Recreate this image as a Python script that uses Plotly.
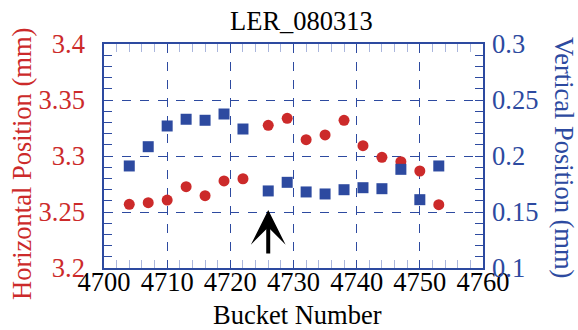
import plotly.graph_objects as go

buckets = [4704, 4707, 4710, 4713, 4716, 4719, 4722, 4726, 4729, 4732,
           4735, 4738, 4741, 4744, 4747, 4750, 4753]
horizontal = [3.2569, 3.2583, 3.2607, 3.2726, 3.2646, 3.2777, 3.2797, 3.3274,
              3.3336, 3.3146, 3.3188, 3.3319, 3.3092, 3.2988, 3.2949, 3.2866, 3.2565]
vertical = [0.1911, 0.2083, 0.2268, 0.2328, 0.2319, 0.2375, 0.2241, 0.1688,
            0.1765, 0.1679, 0.1661, 0.1699, 0.1717, 0.1708, 0.1881, 0.1610, 0.1911]
arrow_bucket = 4726
arrow_tip = 3.2518
arrow_tail = 3.2116

RED = "#cc2a2a"
BLUE = "#2d4aa0"
FONT = "Times New Roman, Liberation Serif, Times, serif"
FS = 26.5

fig = go.Figure()
fig.add_trace(go.Scatter(x=buckets, y=horizontal, mode="markers",
                         marker=dict(symbol="circle", size=11, color=RED),
                         yaxis="y", showlegend=False))
fig.add_trace(go.Scatter(x=buckets, y=vertical, mode="markers",
                         marker=dict(symbol="square", size=11, color=BLUE),
                         yaxis="y2", showlegend=False))

fig.update_layout(
    width=578, height=330,
    margin=dict(l=104, r=95, t=44, b=62, autoexpand=False),
    paper_bgcolor="white", plot_bgcolor="white",
    font=dict(family=FONT, size=FS, color="black"),
    title=dict(text="LER_080313", x=0.521, xref="paper", xanchor="center",
               y=1 - 21 / 330, yref="container", yanchor="middle",
               font=dict(family=FONT, size=FS, color="black")),
    xaxis=dict(range=[4700, 4760], dtick=10, tick0=4700, automargin=False,
               showline=True, linecolor=BLUE, linewidth=1.5, mirror="allticks",
               ticks="inside", ticklen=8, tickcolor=BLUE,
               showgrid=True, gridcolor=BLUE, griddash="dash", gridwidth=1,
               zeroline=False, ticklabelstandoff=-11,
               tickfont=dict(family=FONT, size=FS, color="black"),
               minor=dict(dtick=2, ticks="inside", ticklen=8, tickcolor="#aab6dd", showgrid=False)),
    yaxis=dict(range=[3.2, 3.4], dtick=0.05, tick0=3.2, automargin=False,
               showline=True, linecolor=BLUE, linewidth=1.5, mirror=True,
               ticks="inside", ticklen=8, tickcolor=BLUE,
               showgrid=True, gridcolor=BLUE, griddash="dash", gridwidth=1,
               zeroline=False, ticklabelstandoff=12,
               tickfont=dict(family=FONT, size=FS, color=RED),
               minor=dict(dtick=0.01, ticks="inside", ticklen=8, tickcolor=BLUE, showgrid=False)),
    yaxis2=dict(range=[0.1, 0.3], dtick=0.05, tick0=0.1, overlaying="y", side="right",
                automargin=False,
                showline=False, ticks="inside", ticklen=8, tickcolor=BLUE,
                showgrid=False, zeroline=False, ticklabelstandoff=8,
                tickfont=dict(family=FONT, size=FS, color=BLUE),
                minor=dict(dtick=0.01, ticks="inside", ticklen=8, tickcolor=BLUE, showgrid=False)),
)

fig.add_annotation(text="Bucket Number",
                   xref="paper", yref="paper", x=(297 - 104) / 379, y=(268 - 315) / 224,
                   xanchor="center", yanchor="middle", showarrow=False,
                   font=dict(family=FONT, size=FS, color="black"))
fig.add_annotation(text="Horizontal Position (mm)", textangle=-90,
                   xref="paper", yref="paper", x=(22 - 104) / 379, y=(268 - 164) / 224,
                   xanchor="center", yanchor="middle", showarrow=False,
                   font=dict(family=FONT, size=FS, color=RED))
fig.add_annotation(text="Vertical Position (mm)", textangle=90,
                   xref="paper", yref="paper", x=(564 - 104) / 379, y=(268 - 157) / 224,
                   xanchor="center", yanchor="middle", showarrow=False,
                   font=dict(family=FONT, size=FS, color=BLUE))
fig.add_annotation(x=arrow_bucket, y=arrow_tip, ax=arrow_bucket, ay=arrow_tail,
                   xref="x", yref="y", axref="x", ayref="y", text="",
                   showarrow=True, arrowhead=3, arrowsize=1.45, arrowwidth=4,
                   arrowcolor="black", standoff=0)

fig.write_html("out.html")
